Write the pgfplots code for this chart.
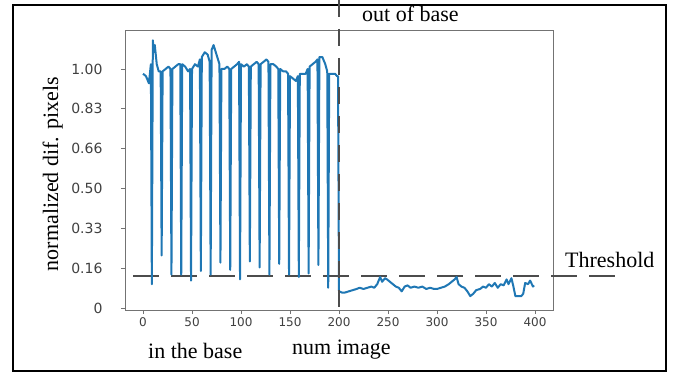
\documentclass[border=0pt]{standalone}
\usepackage{fontspec}
\usepackage{pgfplots}
\pgfplotsset{compat=1.18}
\setmainfont{Liberation Serif}
\newfontfamily\tickfont{DejaVu Sans}
\definecolor{mplblue}{HTML}{1F77B4}
\begin{document}
\begin{tikzpicture}
\path[use as bounding box] (0pt,0pt) rectangle (673pt,373pt);
\draw[line width=1.5pt] (13pt,2pt) rectangle (666pt,368pt);
\begin{axis}[
  at={(125pt,63pt)}, anchor=south west,
  scale only axis, width=428pt, height=280pt,
  xmin=-18.4, xmax=418.4, ymin=-0.008, ymax=1.163,
  clip=false,
  axis line style={black!55, line width=0.9pt},
  tick align=outside, major tick length=4pt,
  tick style={black!55, line width=0.8pt},
  xtick pos=bottom, ytick pos=left,
  xtick={0,50,100,150,200,250,300,350,400},
  ytick={0,0.166667,0.333333,0.5,0.666667,0.833333,1},
  yticklabels={0,0.16,0.33,0.50,0.66,0.83,1.00},
  /pgf/number format/assume math mode=true,
  xticklabel style={font=\tickfont\fontsize{12}{12}\selectfont, text=black!75},
  yticklabel style={font=\tickfont\fontsize{14}{14}\selectfont, text=black!75, xshift=-15pt},
]
\draw[black!70, line width=1.3pt, dash pattern=on 26pt off 12pt] (axis cs:-10.2,0.134) -- (axis cs:491.8,0.134);
\addplot[mplblue, line width=2pt, line join=round] coordinates {
(0,0.98)(3,0.97)(6,0.94)(8,1.02)(9,0.10)(10,1.12)(11,1.07)(12,1.10)(14,1.02)(16,0.99)(18,0.99)(19,0.22)
(20,0.99)(23,1.00)(26,1.01)(28,1.00)(29,0.14)(30,1.00)(33,1.01)(36,1.02)(38,1.02)(39,0.14)
(40,1.02)(43,1.01)(46,0.99)(48,1.00)(49,0.115)(50,1.00)(53,1.02)(56,1.01)(58,1.04)(59,0.155)
(60,1.05)(63,1.07)(66,1.06)(68,1.03)(69,0.14)(70,1.08)(72,1.10)(75,1.06)(78,1.02)(79,0.19)
(80,1.00)(83,1.00)(86,1.01)(88,1.00)(89,0.16)(90,1.00)(93,1.01)(96,1.02)(98,1.03)(99,0.12)
(100,1.02)(103,1.01)(106,1.02)(108,1.01)(109,0.195)(110,1.01)(113,1.02)(116,1.03)(118,1.02)(119,0.17)
(120,1.02)(123,1.03)(126,1.04)(128,1.03)(129,0.14)(130,1.02)(133,1.02)(136,1.01)(138,1.00)(139,0.185)
(140,1.00)(143,0.99)(146,0.99)(148,0.98)(149,0.14)(150,0.97)(153,0.96)(156,0.95)(158,0.97)(159,0.13)
(160,0.98)(163,0.98)(166,0.98)(168,1.00)(169,0.145)(170,1.01)(173,1.02)(176,1.03)(178,1.04)(179,0.18)
(180,1.05)(183,1.05)(186,1.02)(188,0.99)(189,0.085)(190,0.98)(193,0.98)(196,0.98)(198,0.97)(199,0.97)
(200,0.07)(203,0.065)(206,0.065)(210,0.07)(214,0.075)(218,0.08)(221,0.085)(225,0.08)(229,0.085)(233,0.09)
(236,0.085)(239,0.10)(242,0.13)(244,0.11)(247,0.125)(249,0.12)(252,0.11)(255,0.10)(258,0.09)(261,0.085)
(264,0.07)(267,0.09)(270,0.095)(273,0.085)(277,0.09)(281,0.085)(285,0.09)(289,0.08)(293,0.085)(297,0.08)
(300,0.08)(304,0.085)(308,0.09)(312,0.10)(315,0.11)(318,0.12)(320,0.13)(322,0.10)(325,0.09)(328,0.085)
(331,0.07)(334,0.05)(337,0.06)(340,0.075)(344,0.08)(347,0.09)(350,0.085)(353,0.10)(356,0.09)(359,0.105)
(362,0.085)(365,0.10)(368,0.095)(371,0.12)(373,0.10)(376,0.125)(378,0.09)(380,0.05)(383,0.05)(386,0.05)
(388,0.06)(390,0.105)(393,0.10)(395,0.115)(398,0.09)(399,0.095)
};
\draw[black!70, line width=1.3pt, dash pattern=on 17pt off 12pt] (axis cs:200,1.289) -- (axis cs:200,-0.008);
\end{axis}
\node[font=\fontsize{22}{26}\selectfont, anchor=base west, inner sep=0pt] at (362pt,351pt) {out of base};
\node[font=\fontsize{22}{26}\selectfont, anchor=base west, inner sep=0pt] at (565pt,106pt) {Threshold};
\node[font=\fontsize{22}{26}\selectfont, anchor=base west, inner sep=0pt] at (148pt,15pt) {in the base};
\node[font=\fontsize{22}{26}\selectfont, anchor=base west, inner sep=0pt] at (292pt,19pt) {num image};
\node[font=\fontsize{22}{26}\selectfont, rotate=90, anchor=base, inner sep=0pt] at (58pt,199pt) {normalized dif. pixels};
\end{tikzpicture}
\end{document}
